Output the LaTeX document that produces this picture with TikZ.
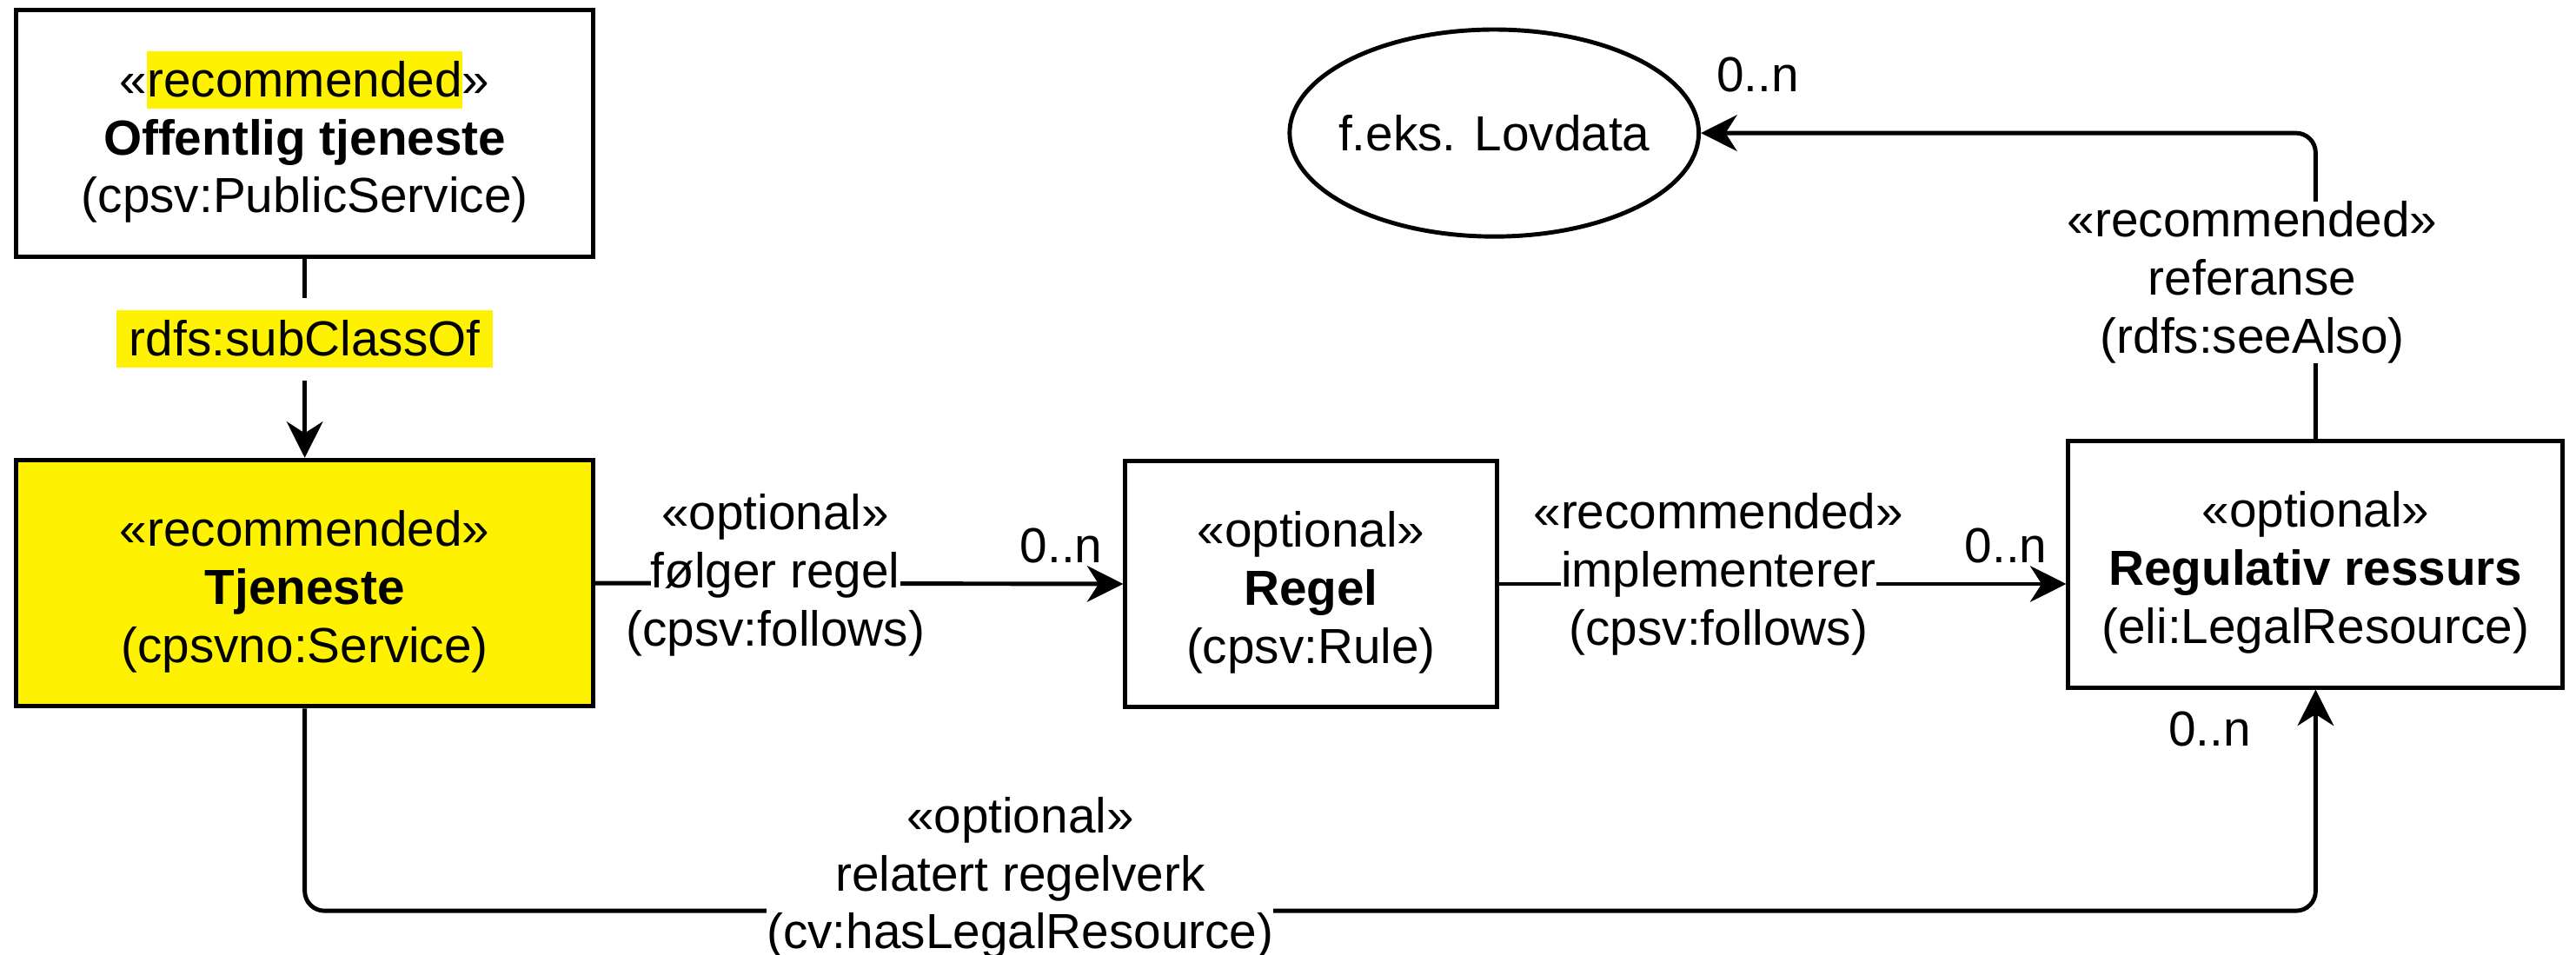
\documentclass[tikz,border=0pt]{standalone}
\usepackage{fontspec}
\setmainfont{Liberation Sans}
\usetikzlibrary{arrows.meta,shapes.geometric}
\newcommand\hly[1]{\smash{\setlength{\fboxsep}{0pt}\colorbox{yellow}{\rule[-3.7pt]{0pt}{17.5pt}#1}}}
\newcommand\bgw[1]{\smash{\setlength{\fboxsep}{0pt}\colorbox{white}{\rule[-3.7pt]{0pt}{17.5pt}#1}}\vphantom{(}}
\newcommand\lab{\fontsize{15pt}{17.7pt}\selectfont}
\newcommand\topstrut{\rule{0pt}{16pt}}
\begin{document}
\begin{tikzpicture}[x=0.5pt,y=-0.5pt,
  box/.style={draw, line width=1.3pt, minimum width=175.5pt, minimum height=75pt, align=center, inner sep=0pt, font=\lab},
  elab/.style={align=center, inner sep=0pt, font=\lab},
  mult/.style={inner sep=0pt, font=\lab},
  conn/.style={line width=1.3pt, -{Stealth[length=11pt,width=11pt,inset=3.5pt]}},
  plain/.style={line width=1.3pt}]
\useasboundingbox (0,0) rectangle (1568,581);

% classes
\node[box] (off) at (185.5,81.3) {\topstrut«\hly{recommended}»\\\textbf{Offentlig tjeneste}\\(cpsv:PublicService)};
\node[box, fill=yellow] (tje) at (185.5,355) {\topstrut«recommended»\\\textbf{Tjeneste}\\(cpsvno:Service)};
\node[box, minimum width=113pt] (regel) at (798,355.5) {\topstrut«optional»\\\textbf{Regel}\\(cpsv:Rule)};
\node[box, minimum width=150.5pt] (reg) at (1409.5,343.5) {\topstrut«optional»\\\textbf{Regulativ ressurs}\\(eli:LegalResource)};
\node[draw, ellipse, line width=1.3pt, minimum width=124.5pt, minimum height=63pt, inner sep=0pt, font=\lab] (lov) at (909.5,81) {\makebox[0pt][c]{f.eks. Lovdata}};

% subClassOf
\draw[conn] (off.south) -- (tje.north);
\node[fill=white, inner xsep=0pt, inner ysep=3.75pt, font=\lab] (sub) at (185.5,206.5)
  {{\setlength{\fboxsep}{0pt}\colorbox{yellow}{\hspace{4pt}\rule[-3.7pt]{0pt}{17.5pt}rdfs:subClassOf\hspace{4pt}}}};

% følger regel
\draw[conn] (tje.east) -- (regel.west);
\node[elab] (l1) at (472,350) {«optional»\\\bgw{følger regel}\\(cpsv:follows)};
\node[mult] (m1) at (646,332) {0..n};

% implementerer
\coordinate (e2) at (regel.east -| reg.west);
\draw[conn] (regel.east) -- (e2);
\node[elab] (l2) at (1046,349.5) {«recommended»\\\bgw{implementerer}\\(cpsv:follows)};
\node[mult] (m2) at (1221,332) {0..n};

% referanse
\draw[conn, rounded corners=6pt] (reg.north) |- (lov.east);
\node[elab, fill=white] (l3) at (1371,172) {«recommended»\\referanse\\(rdfs:seeAlso)};
\node[mult] (m3) at (1070,45.5) {0..n};

% relatert regelverk
\coordinate (c4) at (reg.south |- 0,554.5);
\draw[conn, rounded corners=6pt] (tje.south) |- (c4) -- (reg.south);
\node[elab] (l4) at (621,534.5) {«optional»\\relatert regelverk\\\bgw{(cv:hasLegalResource)}};
\node[mult] (m4) at (1345,444) {0..n};
\end{tikzpicture}
\end{document}
